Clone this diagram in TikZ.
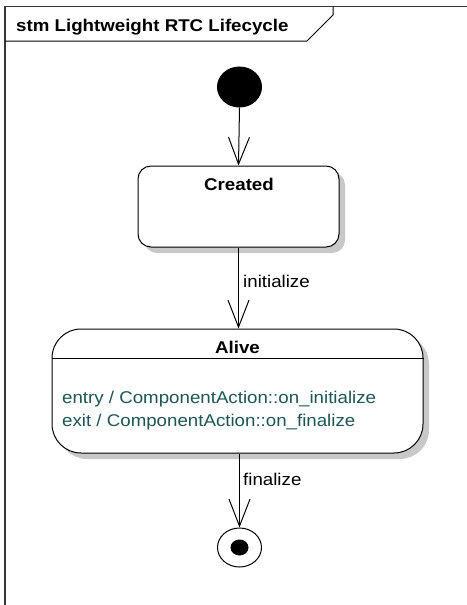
\documentclass[tikz,border=0pt]{standalone}
\usepackage{fontspec}
\setmainfont[FakeStretch=1.1]{Liberation Sans}
\usetikzlibrary{arrows.meta,shapes.geometric}
\definecolor{actiontext}{RGB}{30,85,85}
\definecolor{shadowgray}{RGB}{200,200,200}
\definecolor{framegray}{RGB}{55,55,55}
\newcommand\dfont{\fontsize{17}{20}\selectfont}
\begin{document}
\begin{tikzpicture}[x=1pt,y=-1pt,
  every node/.style={inner sep=0pt, font=\dfont},
  statebox/.style={draw=black, line width=1pt, fill=white, rectangle,
    preaction={fill=shadowgray, transform canvas={shift={(6pt,-6pt)}}}},
  flow/.style={draw=black, line width=1pt,
    -{Straight Barb[length=27pt,width=21pt,line width=1pt]}},
  pseudo/.style={ellipse, draw=black, line width=1pt, minimum width=44pt, minimum height=40pt},
  txt/.style={anchor=base, text=black},
  action/.style={anchor=base west, text=actiontext},
]
\useasboundingbox (0,0) rectangle (466,605);
\fill[white] (0,0) rectangle (466,605);

% diagram frame and its name tab
\draw[framegray, line width=1.8pt] (5,612) -- (5,6.5) -- (472,6.5);
\draw[black, line width=1pt] (5,41) -- (307,41) -- (333,15) -- (333,6.5);
\node[anchor=base west, font=\dfont\bfseries] (title) at (16,31.5) {stm Lightweight RTC Lifecycle};

% initial pseudostate
\node[pseudo, fill=black] (init) at (239.5,87) {};

% state: Created
\node[statebox, rounded corners=13pt, minimum width=201pt, minimum height=81pt] (created) at (238.5,206.5) {};
\node[txt, font=\dfont\bfseries] (createdname) at (239,190) {Created};

% state: Alive, with its compartment line
\node[statebox, rounded corners=29pt, minimum width=371pt, minimum height=124pt] (alive) at (237.5,391) {};
\coordinate (divy) at (0,358);
\draw[black, line width=1pt] (alive.west |- divy) -- (alive.east |- divy);
\node[txt, font=\dfont\bfseries] (alivename) at (237.5,353) {Alive};
\node[action] (entry) at (62,403) {entry / ComponentAction::on\_initialize};
\node[action] (exit) at (62,426) {exit / ComponentAction::on\_finalize};

% final state
\node[pseudo, minimum height=39pt] (final) at (239.5,547.5) {};
\node[ellipse, fill=black, minimum width=18pt, minimum height=16pt] (finaldot) at (final.center) {};

% transitions
\draw[flow] (init.south) -- (created.north);
\draw[flow] (created.south) -- (created.south |- alive.north);
\draw[flow] (alive.south -| final.north) -- (final.north);
\node[anchor=base west] (initlabel) at (243,287) {initialize};
\node[anchor=base west] (finlabel) at (243,485) {finalize};
\end{tikzpicture}
\end{document}
